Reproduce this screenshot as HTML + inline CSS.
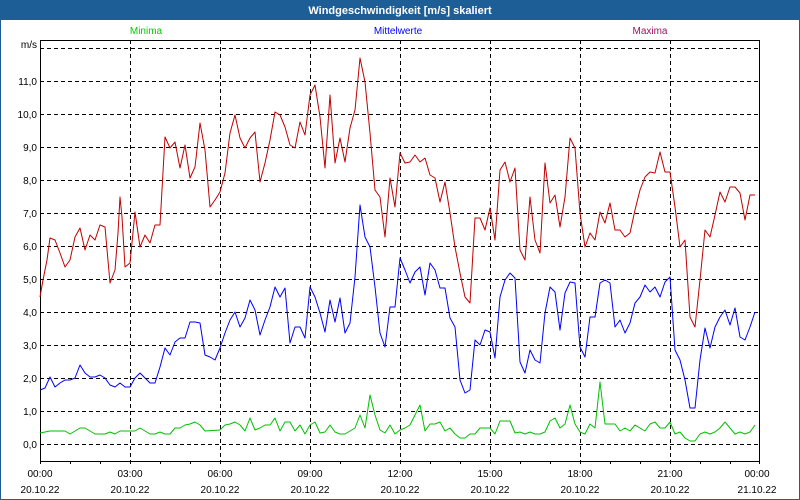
<!DOCTYPE html>
<html><head><meta charset="utf-8"><style>
html,body{margin:0;padding:0;background:#fff;}
svg{display:block;font-family:"Liberation Sans",sans-serif;}
</style></head><body>
<svg width="800" height="500" viewBox="0 0 800 500" xmlns="http://www.w3.org/2000/svg">
<rect x="0" y="0" width="800" height="500" fill="#fff"/>
<rect x="0.5" y="0.5" width="799" height="499" fill="none" stroke="#1e5e96" stroke-width="1"/>
<rect x="0" y="0" width="800" height="20" fill="#1e5e96"/>
<text x="400" y="14" fill="#fff" font-size="11" font-weight="bold" text-anchor="middle">Windgeschwindigkeit [m/s] skaliert</text>
<text x="146" y="34" fill="#00cc00" font-size="10" text-anchor="middle">Minima</text>
<text x="398" y="34" fill="#0000ff" font-size="10" text-anchor="middle">Mittelwerte</text>
<text x="650" y="34" fill="#a01060" font-size="10" text-anchor="middle">Maxima</text>
<g stroke="#000" stroke-width="1" stroke-dasharray="4,3" fill="none">
<path d="M40 48.5H760M40 81.5H760M40 114.5H760M40 147.5H760M40 180.5H760M40 213.5H760M40 246.5H760M40 279.5H760M40 312.5H760M40 345.5H760M40 378.5H760M40 411.5H760M40 444.5H760"/>
<path d="M130.5 40V461M220.5 40V461M310.5 40V461M400.5 40V461M490.5 40V461M580.5 40V461M670.5 40V461"/>
</g>
<rect x="40.5" y="40.5" width="719" height="421" fill="none" stroke="#000" stroke-width="1"/>
<g stroke="#000" stroke-width="1">
<path d="M40.5 461v3M70.5 461v3M100.5 461v3M130.5 461v3M160.5 461v3M190.5 461v3M220.5 461v3M250.5 461v3M280.5 461v3M310.5 461v3M340.5 461v3M370.5 461v3M400.5 461v3M430.5 461v3M460.5 461v3M490.5 461v3M520.5 461v3M550.5 461v3M580.5 461v3M610.5 461v3M640.5 461v3M670.5 461v3M700.5 461v3M730.5 461v3M759.5 461v3"/>
</g>
<g font-size="10" fill="#000" text-anchor="end">
<text x="37" y="48">m/s</text>
<text x="37" y="85">11,0</text>
<text x="37" y="118">10,0</text>
<text x="37" y="151">9,0</text>
<text x="37" y="184">8,0</text>
<text x="37" y="217">7,0</text>
<text x="37" y="250">6,0</text>
<text x="37" y="283">5,0</text>
<text x="37" y="316">4,0</text>
<text x="37" y="349">3,0</text>
<text x="37" y="382">2,0</text>
<text x="37" y="415">1,0</text>
<text x="37" y="448">0,0</text>
</g>
<g font-size="10" fill="#000" text-anchor="middle">
<text x="40" y="477">00:00</text><text x="40" y="493">20.10.22</text>
<text x="130" y="477">03:00</text><text x="130" y="493">20.10.22</text>
<text x="220" y="477">06:00</text><text x="220" y="493">20.10.22</text>
<text x="310" y="477">09:00</text><text x="310" y="493">20.10.22</text>
<text x="400" y="477">12:00</text><text x="400" y="493">20.10.22</text>
<text x="490" y="477">15:00</text><text x="490" y="493">20.10.22</text>
<text x="580" y="477">18:00</text><text x="580" y="493">20.10.22</text>
<text x="670" y="477">21:00</text><text x="670" y="493">20.10.22</text>
<text x="757" y="477">00:00</text><text x="757" y="493">21.10.22</text>
</g>
<g fill="none" stroke-width="1" stroke-linejoin="round">
<polyline stroke="#c00000" points="40,297 43,280 47,260 50,238 55,240 60,253 65,267 70,260 75,237 80,228 85,250 90,235 95,240 100,225 105,227 110,283 115,270 118,233 120,197 122,217 125,267 130,263 135,212 140,247 145,235 150,243 155,225 160,225 165,137 170,148 175,142 180,168 185,145 190,178 195,167 200,123 205,150 210,207 215,200 220,192 225,173 230,133 235,115 240,138 245,148 250,138 255,132 260,182 265,163 270,140 275,112 280,115 285,127 290,145 295,148 300,122 305,135 310,95 315,85 320,117 325,168 330,95 335,163 340,138 345,162 350,128 355,110 360,58 365,82 370,133 375,190 380,197 385,237 390,178 395,207 400,153 405,163 410,162 415,155 420,162 425,158 430,175 435,178 440,202 445,182 450,213 455,247 460,273 465,297 470,303 475,218 480,218 485,230 490,208 495,240 500,170 505,162 510,182 515,168 520,250 525,260 530,197 535,240 540,253 545,163 550,203 555,195 560,227 565,197 570,138 575,148 580,213 585,247 590,233 595,240 600,212 605,223 610,203 615,230 620,230 625,237 630,233 635,210 640,190 645,177 650,172 655,173 660,152 665,172 670,172 675,207 680,247 685,240 690,317 695,327 700,280 705,230 710,237 715,215 720,192 725,202 730,187 735,187 740,193 745,220 750,195 755,195"/>
<polyline stroke="#0000ff" points="40,390 45,388 50,377 55,387 60,383 65,380 70,380 75,378 80,365 85,373 90,377 95,377 100,375 105,378 110,385 115,387 120,383 125,387 130,387 135,378 140,373 145,378 150,383 155,383 160,367 165,348 170,355 175,342 180,338 185,338 190,322 195,322 200,323 205,355 210,357 215,360 220,348 225,333 230,320 235,312 240,327 245,318 250,300 255,310 260,335 265,320 270,307 275,287 280,297 285,288 290,343 295,327 300,327 305,338 310,287 315,297 320,313 325,332 330,300 335,322 340,298 345,333 350,323 355,277 360,205 365,237 370,247 375,287 380,333 385,347 390,307 395,307 400,258 405,270 410,283 415,272 420,267 425,295 430,263 435,270 440,288 445,288 450,318 455,327 460,380 465,393 470,390 475,340 480,345 485,330 490,332 495,358 500,297 505,280 510,273 515,278 520,362 525,373 530,350 535,360 540,363 545,313 550,287 555,292 560,330 565,293 570,282 575,283 580,347 585,357 590,317 595,317 600,283 605,280 610,283 615,327 620,320 625,333 630,323 635,303 640,297 645,285 650,292 655,287 660,297 665,282 670,277 675,350 680,360 685,380 690,408 695,408 700,360 705,328 710,348 715,327 720,317 725,310 730,325 735,308 740,337 745,340 750,327 755,312"/>
<polyline stroke="#00c000" points="40,433 50,431 65,431 70,434 80,428 85,428 95,434 105,434 110,432 115,434 120,431 135,431 140,428 150,434 155,434 160,432 165,434 170,434 175,428 180,428 185,425 190,424 195,422 200,425 205,431 220,430 225,425 230,424 235,422 240,425 245,431 250,418 255,430 260,428 265,425 270,425 275,418 280,431 285,422 290,422 295,431 300,425 305,434 310,425 315,422 320,433 325,432 330,425 335,432 340,434 345,434 350,431 355,428 360,415 365,428 370,395 375,415 380,430 385,433 390,425 395,434 400,430 405,428 410,425 415,415 420,405 425,431 430,424 435,424 440,422 445,431 450,428 455,434 460,438 465,438 470,434 475,434 480,428 490,428 495,434 500,421 510,421 515,433 520,432 525,434 530,432 535,434 540,434 545,432 550,421 555,418 560,428 565,424 570,405 575,424 580,432 585,434 590,424 595,428 600,382 605,424 615,424 620,431 625,428 630,431 635,425 645,431 650,424 655,422 660,428 665,428 670,422 675,434 680,432 685,438 690,441 695,441 700,434 705,432 710,434 715,432 720,428 725,422 730,428 735,434 740,432 745,434 750,432 755,425"/>
</g>
</svg>
</body></html>
